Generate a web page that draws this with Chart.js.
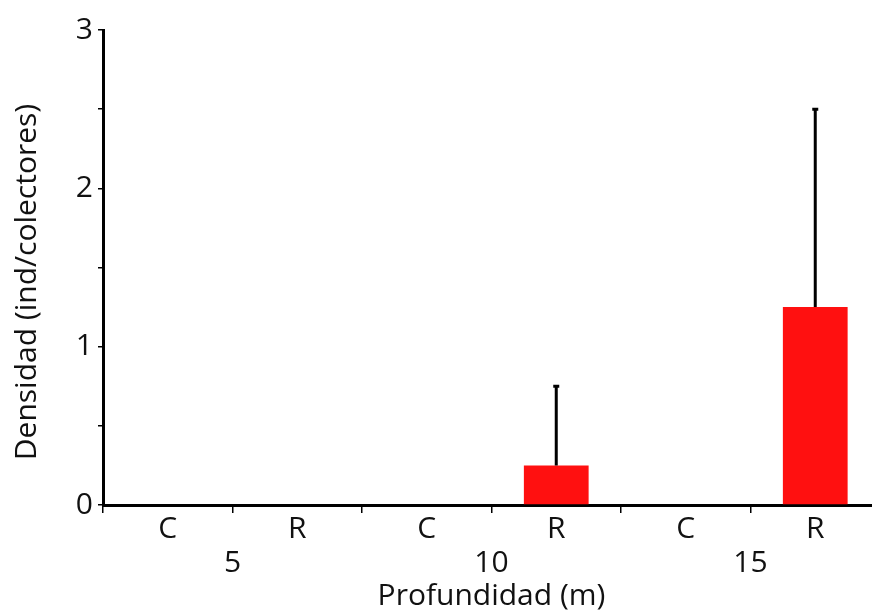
<!DOCTYPE html>
<html lang="es">
<head>
<meta charset="UTF-8">
<title>Densidad por profundidad</title>
<script src="https://cdn.jsdelivr.net/npm/chart.js"></script>
<style>
    html, body { margin: 0; padding: 0; background: #fff; overflow: hidden; }
    #wrap { width: 872px; height: 614px; overflow: hidden; }
</style>
</head>
<body>
<div id="wrap"><canvas id="chart" width="880" height="614"></canvas></div>
<script>
// Data
const categories = ['C', 'R', 'C', 'R', 'C', 'R'];
const depths = ['5', '10', '15'];
const densidad = [0, 0, 0, 0.25, 0, 1.25];
const errorSup = [0, 0, 0, 0.5, 0, 1.25];
const yTitle = 'Densidad (ind/colectores)';

const FONT = "'Open Sans', 'Liberation Sans', sans-serif";
const FS = 30;

// error bars (upper only), depth labels under each C/R pair, y title
const extras = {
    id: 'extras',
    afterDatasetsDraw(chart) {
        const ctx = chart.ctx;
        const x = chart.scales.x, y = chart.scales.y;
        ctx.save();
        ctx.strokeStyle = '#000';
        ctx.lineWidth = 3;
        densidad.forEach((v, i) => {
            if (!errorSup[i]) return;
            const px = x.getPixelForValue(i);
            const top = y.getPixelForValue(v + errorSup[i]);
            ctx.beginPath();
            ctx.moveTo(px, y.getPixelForValue(v));
            ctx.lineTo(px, top);
            ctx.moveTo(px - 3, top);
            ctx.lineTo(px + 3, top);
            ctx.stroke();
        });
        ctx.fillStyle = '#111';
        ctx.font = FS + 'px ' + FONT;
        ctx.textAlign = 'center';
        ctx.textBaseline = 'middle';
        depths.forEach((d, g) => {
            const px = (x.getPixelForValue(g * 2) + x.getPixelForValue(g * 2 + 1)) / 2;
            ctx.fillText(d, px, 563);
        });
        ctx.translate(27, 282);
        ctx.rotate(-Math.PI / 2);
        ctx.fillText(yTitle, 0, 0);
        ctx.restore();
    }
};

new Chart(document.getElementById('chart'), {
    type: 'bar',
    data: {
        labels: categories,
        datasets: [{
            data: densidad,
            backgroundColor: '#ff1010',
            borderWidth: 0,
            categoryPercentage: 0.5,
            barPercentage: 1
        }]
    },
    options: {
        responsive: false,
        animation: false,
        layout: { padding: { top: 30, left: 0, right: 0, bottom: 0 } },
        plugins: { legend: { display: false }, tooltip: { enabled: false } },
        scales: {
            x: {
                afterFit(s) { s.height = 109; },
                border: { color: '#000', width: 3 },
                grid: { offset: true, drawOnChartArea: false, color: '#000', lineWidth: 1.5, tickLength: 8 },
                ticks: { color: '#111', font: { family: FONT, size: FS }, padding: -2, maxRotation: 0 },
                title: { display: true, text: 'Profundidad (m)', color: '#111', font: { family: FONT, size: FS }, padding: 0 }
            },
            y: {
                min: 0,
                max: 3,
                afterFit(s) { s.width = 103; },
                border: { color: '#000', width: 3 },
                grid: { drawOnChartArea: false, color: '#000', lineWidth: 1.5, tickLength: 5 },
                ticks: {
                    stepSize: 0.5,
                    color: '#111',
                    padding: 5,
                    font: { family: FONT, size: FS },
                    callback: v => Number.isInteger(v) ? v : ''
                }
            }
        }
    },
    plugins: [extras]
});
</script>
</body>
</html>
